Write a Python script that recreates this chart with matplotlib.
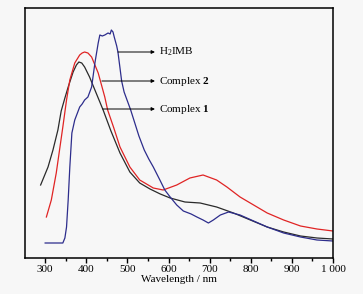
import matplotlib
matplotlib.use("Agg")
import matplotlib.pyplot as plt
from matplotlib.ticker import MultipleLocator, FixedLocator

# H2IMB (blue)
wl_h2imb = [300, 343, 348, 352, 356, 360, 365, 372, 384, 390, 396, 404, 413, 421, 429, 433, 439,
            445, 453, 458, 461, 465, 468, 474, 477, 482, 486, 492, 500, 508, 518, 528, 541, 552,
            563, 579, 591, 604, 620, 636, 655, 669, 684, 697, 709, 726, 746, 774, 807, 840, 880,
            921, 961, 1000]
int_h2imb = [15, 15, 20, 31, 58, 91, 125, 138, 151, 154, 158, 161, 171, 195, 215, 223, 222,
             223, 225, 224, 228, 226, 221, 212, 206, 190, 177, 166, 157, 148, 135, 122, 108, 99,
             91, 78, 68, 61, 53, 47, 44, 41, 38, 35, 38, 43, 46, 43, 37, 31, 25,
             21, 18, 17]

# Complex 1 (black)
wl_c1 = [289, 307, 319, 331, 339, 348, 356, 368, 376, 382, 389, 396, 408, 421, 441, 460, 482,
         506, 530, 555, 580, 604, 640, 677, 717, 758, 799, 840, 880, 921, 961, 1000]
int_c1 = [73, 91, 108, 128, 147, 160, 171, 186, 193, 196, 195, 191, 181, 168, 148, 127, 105,
          86, 75, 69, 64, 60, 56, 55, 51, 45, 38, 31, 26, 22, 20, 19]

# Complex 2 (red)
wl_c2 = [303, 315, 327, 335, 343, 352, 360, 372, 384, 390, 396, 404, 413, 429, 445, 452, 467,
         482, 506, 530, 563, 587, 620, 652, 684, 717, 742, 774, 807, 840, 880, 921, 961, 1000]
int_c2 = [41, 58, 85, 108, 131, 158, 178, 195, 203, 205, 206, 205, 201, 185, 161, 148, 130,
          111, 91, 78, 70, 68, 73, 80, 83, 78, 71, 61, 53, 45, 38, 32, 29, 27]

x_ticks = [300, 400, 500, 600, 700, 800, 900, 1000]
x_tick_labels = ["300", "400", "500", "600", "700", "800", "900", "1 000"]

plt.rcParams['font.family'] = ['Liberation Serif', 'DejaVu Serif']
plt.rcParams['mathtext.fontset'] = 'custom'
plt.rcParams['mathtext.rm'] = 'Liberation Serif'
plt.rcParams['mathtext.bf'] = 'Liberation Serif:bold'
plt.rcParams['mathtext.it'] = 'Liberation Serif:italic'

fig = plt.figure(figsize=(3.63, 2.94), dpi=100, facecolor='#f7f7f7')
ax = fig.add_axes([25/363, 36/294, 308/363, 250/294])
ax.set_facecolor('#f7f7f7')

ax.plot(wl_c1, int_c1, color='#2a2a2a', lw=0.9)
ax.plot(wl_c2, int_c2, color='#e02424', lw=0.9)
ax.plot(wl_h2imb, int_h2imb, color='#2d2d8c', lw=0.9)

ax.set_xlim(251, 1000)
ax.set_ylim(0, 250)
ax.set_yticks([])
ax.xaxis.set_major_locator(FixedLocator(x_ticks))
ax.set_xticklabels(x_tick_labels, fontsize=8)
ax.xaxis.set_minor_locator(MultipleLocator(50))
ax.tick_params(axis='x', which='major', direction='out', length=3.5, width=1, pad=1.5)
ax.tick_params(axis='x', which='minor', direction='out', length=2, width=1)
for s in ax.spines.values():
    s.set_linewidth(1.1)
    s.set_color('black')
ax.set_xlabel('Wavelength / nm', fontsize=8, labelpad=1)

arrow = dict(arrowstyle='-|>', color='black', lw=0.7, mutation_scale=5, shrinkA=0, shrinkB=0)
ax.annotate('', xy=(567, 206), xytext=(477, 206), arrowprops=arrow)
ax.annotate('', xy=(567, 177), xytext=(438, 177), arrowprops=arrow)
ax.annotate('', xy=(567, 149), xytext=(440, 149), arrowprops=arrow)
ax.text(578, 206, r'H$_\mathrm{2}$IMB', fontsize=8, va='center', ha='left')
ax.text(578, 177, r'Complex $\mathbf{2}$', fontsize=8, va='center', ha='left')
ax.text(578, 149, r'Complex $\mathbf{1}$', fontsize=8, va='center', ha='left')

fig.savefig('out.png', dpi=100, facecolor=fig.get_facecolor())
